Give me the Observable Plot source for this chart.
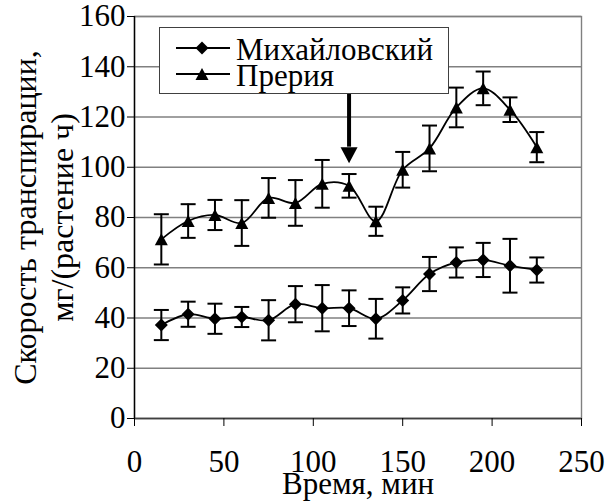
<!DOCTYPE html>
<html>
<head>
<meta charset="utf-8">
<script src="https://cdn.jsdelivr.net/npm/d3@7"></script>
<script src="https://cdn.jsdelivr.net/npm/@observablehq/plot@0.6"></script>
<style>
  html, body { margin: 0; padding: 0; background: white; font-family: "Liberation Serif", serif; }
  #wrap { position: relative; width: 613px; height: 501px; }
  #legend { position: absolute; left: 159px; top: 27px; width: 288px; height: 65px; border: 1.2px solid #404040; background: white; z-index: 2; font-family: "Liberation Serif", serif; font-size: 31px; line-height: 31px; color: black; }
  #legend svg { position: absolute; left: 0; top: 0; }
  #legend .row { position: absolute; left: 76px; white-space: nowrap; }
  #chart { position: absolute; left: 0; top: 0; }
</style>
</head>
<body>
<div id="wrap">
  <div id="legend"></div>
  <div id="chart"></div>
</div>
<script>
// ---- data ----
const times = [15, 30, 45, 60, 75, 90, 105, 120, 135, 150, 165, 180, 195, 210, 225];
const seriesNames = ["Михайловский", "Прерия"];
const mikhValues = [37.2, 41.5, 39.7, 40.4, 39.1, 45.5, 43.9, 43.9, 39.7, 47.0, 57.5, 62.1, 63.1, 60.8, 59.1];
const mikhErrors = [6.0, 5.0, 6.0, 4.0, 8.0, 7.2, 9.2, 7.1, 7.9, 5.2, 6.8, 6.0, 6.8, 10.7, 5.0];
const prairieValues = [71.3, 78.6, 81.0, 77.8, 87.8, 85.8, 93.4, 92.6, 78.5, 99.0, 107.5, 123.8, 131.4, 122.9, 108.0];
const prairieErrors = [10.0, 6.7, 6.0, 9.1, 7.9, 9.1, 9.5, 4.7, 5.8, 7.1, 9.1, 7.9, 6.7, 4.9, 6.0];
const xTicks = [0, 50, 100, 150, 200, 250];
const yTicks = [0, 20, 40, 60, 80, 100, 120, 140, 160];
const arrowTime = [120];
const arrowFrom = 134;
const arrowShaftEnd = 108;
const arrowTip = 101.6;
const xLabel = "Время, мин";
const yLabel = "Скорость транспирации,\nмг/(растение ч)";

const mikh = times.map((t, i) => ({t, v: mikhValues[i], e: mikhErrors[i], s: seriesNames[0]}));
const prairie = times.map((t, i) => ({t, v: prairieValues[i], e: prairieErrors[i], s: seriesNames[1]}));
const all = mikh.concat(prairie);

// ---- custom symbols ----
const diamondSym = {draw(ctx) { const r = 6.5; ctx.moveTo(0, -r); ctx.lineTo(r, 0); ctx.lineTo(0, r); ctx.lineTo(-r, 0); ctx.closePath(); }};
const triangleSym = {draw(ctx) { const w = 6.5, h = 6; ctx.moveTo(0, -h); ctx.lineTo(w, h); ctx.lineTo(-w, h); ctx.closePath(); }};
const capSym = {draw(ctx) { ctx.moveTo(-7.5, 0); ctx.lineTo(7.5, 0); }};
const headSym = {draw(ctx) { ctx.moveTo(-8.5, -16); ctx.lineTo(8.5, -16); ctx.lineTo(0, 0); ctx.closePath(); }};

const FONT = "Liberation Serif";

// ---- legend (HTML, inside plot area) ----
const legend = document.getElementById("legend");
const lsvg = d3.select(legend).append("svg").attr("width", 288).attr("height", 65);
const rows = [
  {name: seriesNames[0], y: 20, sym: "M0,-6.5L6.5,0L0,6.5L-6.5,0Z", top: 6},
  {name: seriesNames[1], y: 46, sym: "M0,-6L6.5,6L-6.5,6Z", top: 31.5}
];
rows.forEach(r => {
  lsvg.append("line").attr("x1", 16).attr("x2", 70).attr("y1", r.y).attr("y2", r.y)
    .attr("stroke", "black").attr("stroke-width", 1.8);
  lsvg.append("path").attr("d", r.sym).attr("transform", `translate(42,${r.y})`).attr("fill", "black");
  const div = document.createElement("div");
  div.className = "row";
  div.style.top = r.top + "px";
  div.textContent = r.name;
  legend.appendChild(div);
});

const chart = Plot.plot({
  width: 613,
  height: 501,
  marginLeft: 134,
  marginRight: 32,
  marginTop: 16,
  marginBottom: 83,
  style: {fontFamily: FONT, fontSize: "31px"},
  x: {domain: [0, 250]},
  y: {domain: [0, 160]},
  marks: [
    Plot.gridY(yTicks, {stroke: "#808080", strokeOpacity: 1, strokeWidth: 1.4}),
    Plot.frame({stroke: "#808080", strokeWidth: 1.4}),
    Plot.ruleY([0], {stroke: "#404040", strokeWidth: 1.6}),
    Plot.ruleX([0], {stroke: "black", strokeWidth: 1.4}),
    Plot.axisY({ticks: yTicks, tickSize: 7, tickPadding: 2, label: null, stroke: "black", fill: "black", fontFamily: FONT, fontSize: 31}),
    Plot.axisX({ticks: xTicks, tickSize: 8, tickPadding: 23, label: null, stroke: "black", fill: "black", fontFamily: FONT, fontSize: 31}),
    // error bars
    Plot.ruleX(all, {x: "t", y1: d => d.v - d.e, y2: d => d.v + d.e, stroke: "black", strokeWidth: 2}),
    Plot.dot(all, {x: "t", y: d => d.v + d.e, symbol: capSym, stroke: "black", fill: "none", strokeWidth: 2}),
    Plot.dot(all, {x: "t", y: d => d.v - d.e, symbol: capSym, stroke: "black", fill: "none", strokeWidth: 2}),
    // lines
    Plot.line(all, {x: "t", y: "v", z: "s", curve: "catmull-rom", stroke: "black", strokeWidth: 1.8}),
    // markers
    Plot.dot(mikh, {x: "t", y: "v", symbol: diamondSym, fill: "black", stroke: "none"}),
    Plot.dot(prairie, {x: "t", y: "v", symbol: triangleSym, fill: "black", stroke: "none"}),
    // arrow
    Plot.ruleX(arrowTime, {x: d => d, y1: arrowFrom, y2: arrowShaftEnd, stroke: "black", strokeWidth: 4}),
    Plot.dot(arrowTime, {x: d => d, y: arrowTip, symbol: headSym, fill: "black", stroke: "none"}),
    // axis titles
    Plot.text([yLabel], {frameAnchor: "left", rotate: -90, dx: -92, fontFamily: FONT, fontSize: 32, lineHeight: 1.18, textAnchor: "middle", lineAnchor: "middle", fill: "black"}),
    Plot.text([xLabel], {frameAnchor: "bottom", dy: 66, fontFamily: FONT, fontSize: 31, textAnchor: "middle", lineAnchor: "middle", fill: "black"})
  ]
});

document.getElementById("chart").appendChild(chart);
</script>
</body>
</html>
